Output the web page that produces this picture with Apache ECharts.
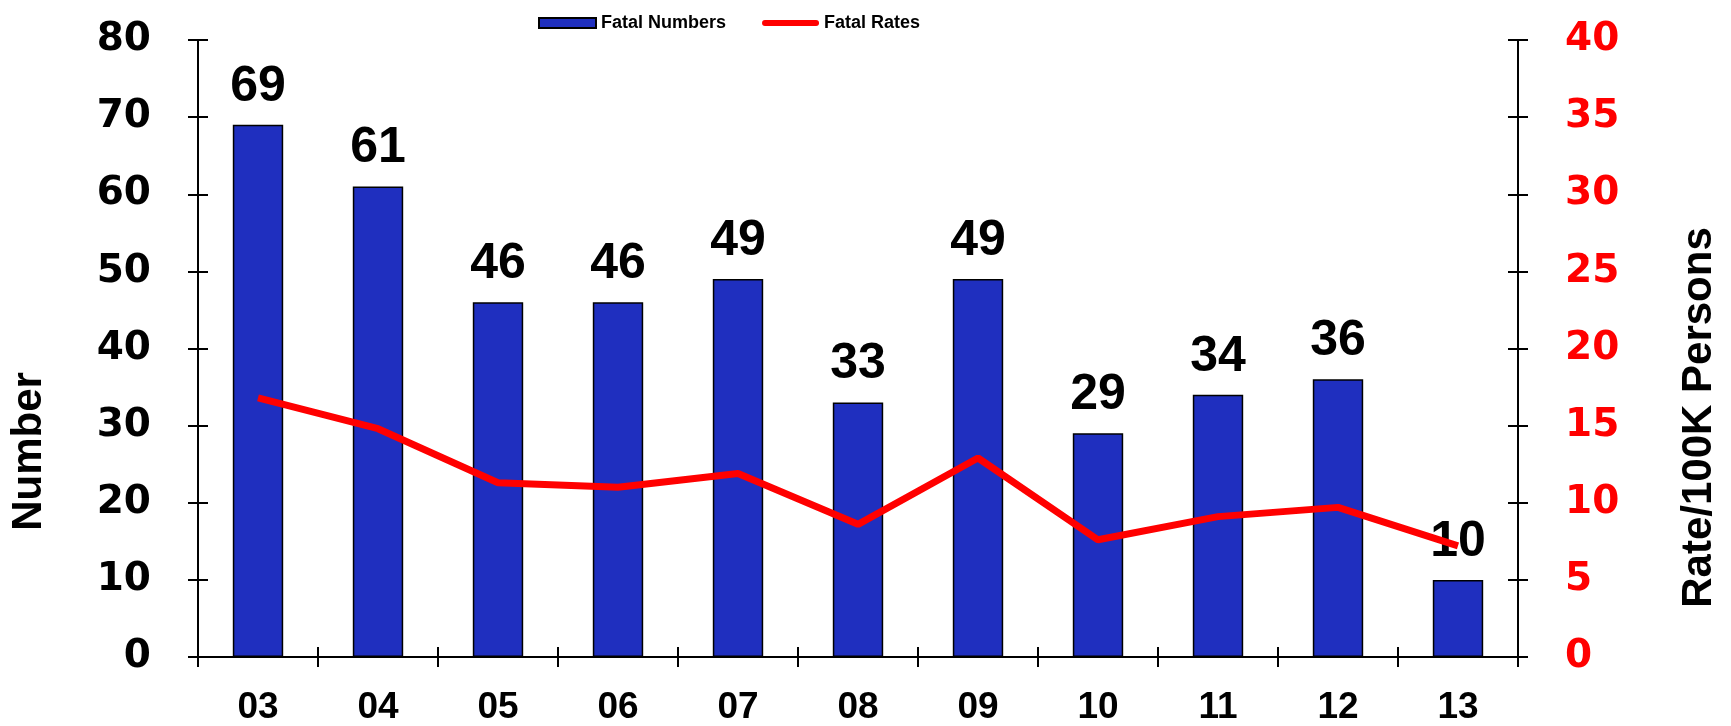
<!DOCTYPE html>
<html>
<head>
<meta charset="utf-8">
<title>Fatal Numbers and Rates</title>
<script src="https://cdn.jsdelivr.net/npm/echarts@6/dist/echarts.min.js"></script>
<style>
  html, body { margin: 0; padding: 0; background: #fff; }
  #main { width: 1731px; height: 726px; }
</style>
</head>
<body>
<div id="main"></div>
<script>
// data
var years = ['03', '04', '05', '06', '07', '08', '09', '10', '11', '12', '13'];
var fatalNumbers = [69, 61, 46, 46, 49, 33, 49, 29, 34, 36, 10];
var fatalRates = [16.8, 14.8, 11.3, 11.0, 11.9, 8.6, 12.9, 7.6, 9.1, 9.7, 7.2];
var leftTicks = [0, 80, 10];   // min, max, interval
var rightTicks = [0, 40, 5];

var font = 'Liberation Sans, Arial, sans-serif';
var tickFont = 'DejaVu Sans, Arial, sans-serif';
var myChart = echarts.init(document.getElementById('main'));

var tickStyle = { color: '#000', width: 2 };

var option = {
    backgroundColor: '#fff',
    animation: false,
    legend: {
        left: 533,
        top: 9,
        itemWidth: 57,
        itemHeight: 10,
        itemGap: 36,
        textStyle: { fontFamily: font, fontWeight: 'bold', fontSize: 18, color: '#000' },
        data: [
            { name: 'Fatal Numbers', icon: 'rect' },
            { name: 'Fatal Rates', icon: 'path://M3,0 L55,0 A3,3 0 0 1 55,6 L3,6 A3,3 0 0 1 3,0 Z' }
        ]
    },
    grid: { left: 196, right: 213, top: 40, bottom: 67 },
    xAxis: [
        {
            type: 'category',
            data: years,
            axisLine: { lineStyle: tickStyle },
            axisTick: { show: true, length: 10, lineStyle: tickStyle },
            axisLabel: { fontFamily: font, fontWeight: 'bold', fontSize: 37, color: '#000', margin: 32 }
        },
        {
            // inner half of the crossing ticks
            type: 'category',
            data: years,
            position: 'bottom',
            axisLine: { show: true, lineStyle: tickStyle },
            axisTick: { show: true, inside: true, length: 10, lineStyle: tickStyle },
            axisLabel: { show: false }
        }
    ],
    yAxis: [
        {
            type: 'value',
            min: leftTicks[0], max: leftTicks[1], interval: leftTicks[2],
            name: 'Number',
            nameLocation: 'middle',
            nameRotate: 90,
            nameGap: 148,
            nameTextStyle: { fontFamily: font, fontWeight: 'bold', fontSize: 42, color: '#000', padding: [0, 206, 0, 0] },
            splitLine: { show: false },
            axisLine: { show: true, lineStyle: tickStyle },
            axisTick: { show: true, length: 10, lineStyle: tickStyle },
            axisLabel: { fontFamily: tickFont, fontWeight: 'bold', fontSize: 39, color: '#000', margin: 47 }
        },
        {
            type: 'value',
            min: rightTicks[0], max: rightTicks[1], interval: rightTicks[2],
            name: 'Rate/100K Persons',
            nameLocation: 'middle',
            nameRotate: 90,
            nameGap: 160,
            nameTextStyle: { fontFamily: font, fontWeight: 'bold', fontSize: 42, color: '#000', padding: [0, 138, 0, 0] },
            splitLine: { show: false },
            axisLine: { show: true, lineStyle: tickStyle },
            axisTick: { show: true, length: 10, lineStyle: tickStyle },
            axisLabel: { fontFamily: tickFont, fontWeight: 'bold', fontSize: 39, color: '#ff0000', margin: 47 }
        },
        {
            type: 'value',
            min: leftTicks[0], max: leftTicks[1], interval: leftTicks[2],
            position: 'left',
            splitLine: { show: false },
            axisLine: { show: true, lineStyle: tickStyle },
            axisTick: { show: true, inside: true, length: 10, lineStyle: tickStyle },
            axisLabel: { show: false }
        },
        {
            type: 'value',
            min: rightTicks[0], max: rightTicks[1], interval: rightTicks[2],
            position: 'right',
            splitLine: { show: false },
            axisLine: { show: true, lineStyle: tickStyle },
            axisTick: { show: true, inside: true, length: 10, lineStyle: tickStyle },
            axisLabel: { show: false }
        }
    ],
    series: [
        {
            name: 'Fatal Numbers',
            type: 'bar',
            barWidth: '42%',
            data: fatalNumbers,
            itemStyle: { color: '#1f2fbf', borderColor: '#000', borderWidth: 1.5 },
            label: {
                show: true,
                position: 'top',
                distance: 13,
                fontFamily: font,
                fontWeight: 'bold',
                fontSize: 50,
                color: '#000'
            }
        },
        {
            name: 'Fatal Rates',
            type: 'line',
            yAxisIndex: 1,
            data: fatalRates,
            symbol: 'none',
            lineStyle: { color: '#ff0000', width: 7 },
            itemStyle: { color: '#ff0000' },
            z: 5
        }
    ]
};

if (option && typeof option === "object") {
    myChart.setOption(option, true);
}
</script>
</body>
</html>
